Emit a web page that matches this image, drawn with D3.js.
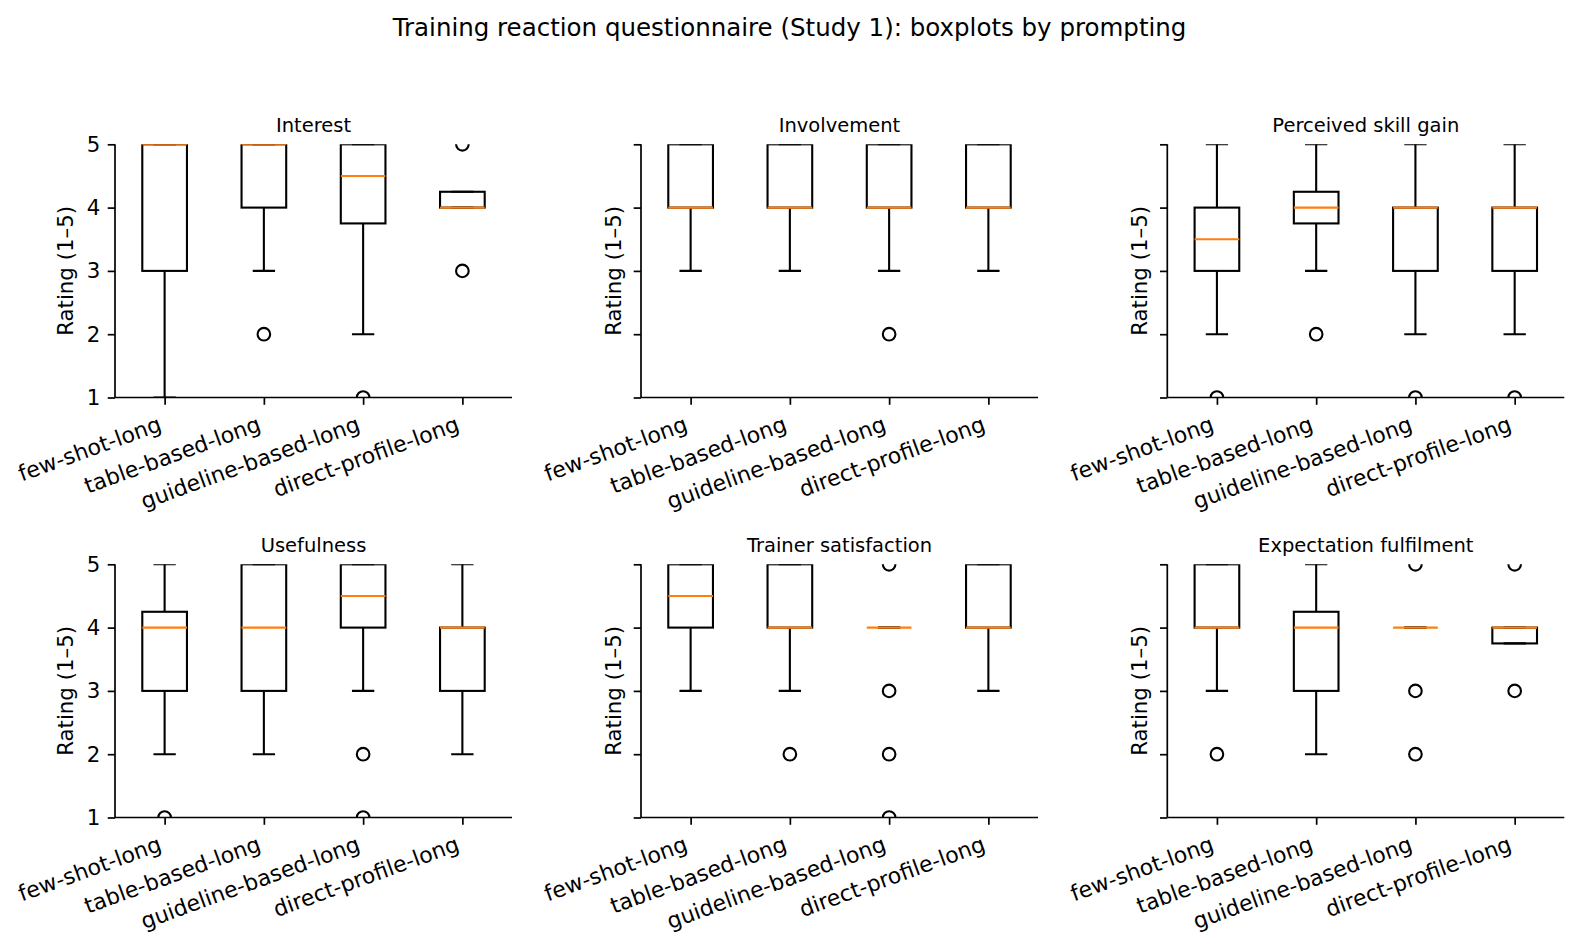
<!DOCTYPE html>
<html><head><meta charset="utf-8">
<script src="https://cdn.jsdelivr.net/npm/d3@7"></script>
<style>body{margin:0;background:#fff;} text{font-family:"DejaVu Sans",sans-serif;fill:#000;}</style>
</head><body>
<svg id="chart" width="1579" height="948"></svg>
<script>
const categories = ["few-shot-long","table-based-long","guideline-based-long","direct-profile-long"];
const panelTitles = ["Interest","Involvement","Perceived skill gain","Usefulness","Trainer satisfaction","Expectation fulfilment"];
const yTicks = [1,2,3,4,5];
// each entry: [whislo, q1, median, q3, whishi]
const interestStats = [[1,3,5,5,5],[3,4,5,5,5],[2,3.75,4.5,5,5],[4,4,4,4.25,4.25]];
const interestOut = [[],[2],[1],[5,3]];
const involvementStats = [[3,4,4,5,5],[3,4,4,5,5],[3,4,4,5,5],[3,4,4,5,5]];
const involvementOut = [[],[],[2],[]];
const skillStats = [[2,3,3.5,4,5],[3,3.75,4,4.25,5],[2,3,4,4,5],[2,3,4,4,5]];
const skillOut = [[1],[2],[1],[1]];
const usefulStats = [[2,3,4,4.25,5],[2,3,4,5,5],[3,4,4.5,5,5],[2,3,4,4,5]];
const usefulOut = [[1],[],[2,1],[]];
const trainerStats = [[3,4,4.5,5,5],[3,4,4,5,5],[4,4,4,4,4],[3,4,4,5,5]];
const trainerOut = [[],[2],[5,3,2,1],[]];
const expectStats = [[3,4,4,5,5],[2,3,4,4.25,5],[4,4,4,4,4],[3.75,3.75,4,4,4]];
const expectOut = [[2],[],[5,3,2],[5,3]];
const allStats = [interestStats,involvementStats,skillStats,usefulStats,trainerStats,expectStats];
const allOut = [interestOut,involvementOut,skillOut,usefulOut,trainerOut,expectOut];

const svg = d3.select("#chart");
svg.append("text").attr("x",789.5).attr("y",36).attr("text-anchor","middle")
  .style("font-size","24.5px").text("Training reaction questionnaire (Study 1): boxplots by prompting");

const colLeft = [115, 641, 1167.3];
const pw = 397;
const rowTop = [144.3, 564.3];
const ph = 253.2;
const fs = 21.3;
const xfs = 22;

panelTitles.forEach((title, i) => {
  const r = Math.floor(i/3), c = i%3;
  const g = svg.append("g").attr("transform",`translate(${colLeft[c]},${rowTop[r]})`);
  const x = d3.scaleLinear().domain([0.5,4.5]).range([0,pw]);
  const y = d3.scaleLinear().domain([1,5]).range([ph,0]);
  const clipId = "clip"+i;
  g.append("clipPath").attr("id",clipId).append("rect").attr("x",0).attr("y",0).attr("width",pw).attr("height",ph);
  const plot = g.append("g").attr("clip-path",`url(#${clipId})`);
  const bw = 0.45, cw = 0.225;
  const L = "#000", sw = 2.1;
  allStats[i].forEach((s, k) => {
    const p = k+1;
    const [lo,q1,med,q3,hi] = s;
    plot.append("line").attr("x1",x(p)).attr("x2",x(p)).attr("y1",y(q1)).attr("y2",y(lo)).attr("stroke",L).attr("stroke-width",sw);
    plot.append("line").attr("x1",x(p)).attr("x2",x(p)).attr("y1",y(q3)).attr("y2",y(hi)).attr("stroke",L).attr("stroke-width",sw);
    plot.append("line").attr("x1",x(p-cw/2)).attr("x2",x(p+cw/2)).attr("y1",y(lo)).attr("y2",y(lo)).attr("stroke",L).attr("stroke-width",sw);
    plot.append("line").attr("x1",x(p-cw/2)).attr("x2",x(p+cw/2)).attr("y1",y(hi)).attr("y2",y(hi)).attr("stroke",L).attr("stroke-width",sw);
    plot.append("rect").attr("x",x(p-bw/2)).attr("width",x(p+bw/2)-x(p-bw/2))
      .attr("y",y(q3)).attr("height",Math.max(0,y(q1)-y(q3)))
      .attr("fill","none").attr("stroke",L).attr("stroke-width",sw);
    plot.append("line").attr("x1",x(p-bw/2)).attr("x2",x(p+bw/2)).attr("y1",y(med)).attr("y2",y(med)).attr("stroke","#ff7f0e").attr("stroke-width",sw);
    allOut[i][k].forEach(v => {
      plot.append("circle").attr("cx",x(p)).attr("cy",y(v)).attr("r",6.3).attr("fill","none").attr("stroke",L).attr("stroke-width",sw);
    });
  });
  const yAxis = d3.axisLeft(y).tickValues(yTicks).tickSize(7.3).tickPadding(7.3).tickFormat(c===0 ? d3.format("d") : () => "");
  const ya = g.append("g").call(yAxis);
  ya.select(".domain").attr("d",`M0,${ph}V0`).attr("stroke-width",1.7);
  ya.selectAll(".tick line").attr("stroke-width",1.7);
  ya.selectAll("text").style("font-size",fs+"px").style("font-family","DejaVu Sans");
  const xAxis = d3.axisBottom(x).tickValues([1,2,3,4]).tickSize(7.3).tickFormat("");
  const xa = g.append("g").attr("transform",`translate(0,${ph})`).call(xAxis);
  xa.select(".domain").attr("d",`M0,0H${pw}`).attr("stroke-width",1.7);
  xa.selectAll(".tick line").attr("stroke-width",1.7);
  categories.forEach((cat,k) => {
    const tx = x(k+1), ty = ph + 17 + 0.94*xfs;
    g.append("text").attr("transform",`translate(${tx},${ty}) rotate(-20)`)
      .attr("text-anchor","end").attr("y",-0.24*xfs)
      .style("font-size",xfs+"px").text(cat);
  });
  g.append("text").attr("x",pw/2).attr("y",-12).attr("text-anchor","middle").style("font-size","19.5px").text(title);
  const ylx = c===0 ? -42 : -20.5;
  g.append("text").attr("transform",`translate(${ylx},${ph/2}) rotate(-90)`).attr("text-anchor","middle")
    .style("font-size",fs+"px").text("Rating (1–5)");
});
</script>
</body></html>
